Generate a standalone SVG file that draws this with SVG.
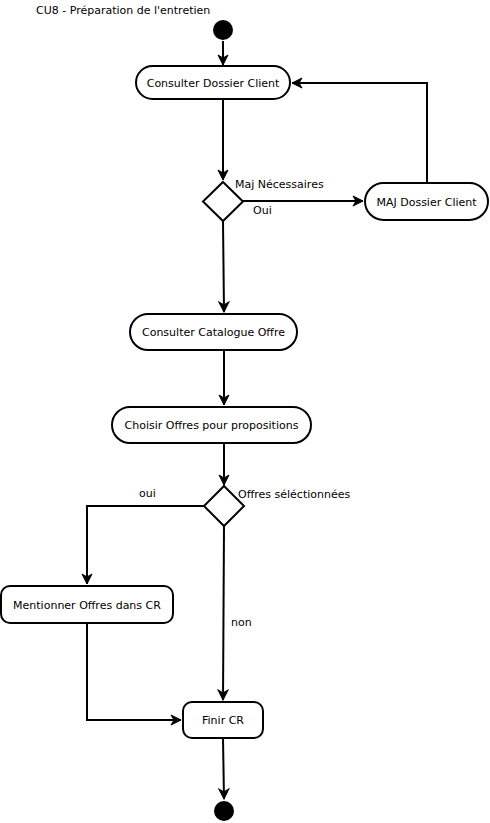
<svg xmlns="http://www.w3.org/2000/svg" width="490" height="823" viewBox="0 0 490 823">
<style>
text{font-family:"DejaVu Sans",Verdana,sans-serif;font-size:11px;fill:#000}
.n{fill:#fff;stroke:#000;stroke-width:2}
.c{fill:none;stroke:#000;stroke-width:2;marker-end:url(#a)}
.m{text-anchor:middle}
</style>
<defs>
<marker id="a" markerUnits="userSpaceOnUse" markerWidth="12" markerHeight="12" viewBox="0 0 12 12" refX="11" refY="6" orient="auto">
<path d="M1,1 L11,6 L1,11 L4,6 Z" fill="#000" stroke="#000" stroke-width="1"/>
</marker>
</defs>
<rect width="490" height="823" fill="#fff"/>
<text x="36" y="14">CU8 - Préparation de l'entretien</text>
<g id="connectors">
<path class="c" d="M223,41 L223,65"/>
<path class="c" d="M223,99 L223,180"/>
<path class="c" d="M243,201 L363,201"/>
<path class="c" d="M427,183 L427,83 L292,83"/>
<path class="c" d="M223,221 L224,312"/>
<path class="c" d="M224,350 L224,405"/>
<path class="c" d="M224,443 L224,485"/>
<path class="c" d="M204,506 L87,506 L87,584"/>
<path class="c" d="M224,526 L223,700"/>
<path class="c" d="M87,623 L87,720 L181,720"/>
<path class="c" d="M223,738 L224,799"/>
<text x="235" y="188">Maj Nécessaires</text>
<text x="253" y="214">Oui</text>
<text x="238" y="498">Offres séléctionnées</text>
<text x="139" y="497">oui</text>
<text x="231" y="626">non</text>
</g>
<g id="start"><circle cx="223" cy="30" r="10" fill="#000"/></g>
<g id="consulterDossier"><rect class="n" x="136" y="66" width="154" height="33" rx="16.5"/><text class="m" x="213" y="87">Consulter Dossier Client</text></g>
<g id="decision1"><path class="n" d="M223,182 L243,201.5 L223,221 L203,201.5 Z"/></g>
<g id="majDossier"><rect class="n" x="365" y="183" width="123" height="37" rx="18.5"/><text class="m" x="426.5" y="206">MAJ Dossier Client</text></g>
<g id="consulterCatalogue"><rect class="n" x="130" y="314" width="167" height="36" rx="18"/><text class="m" x="213.5" y="336">Consulter Catalogue Offre</text></g>
<g id="choisirOffres"><rect class="n" x="112" y="407" width="199" height="36" rx="18"/><text class="m" x="211.5" y="429">Choisir Offres pour propositions</text></g>
<g id="decision2"><path class="n" d="M224,486 L244,506 L224,526 L204,506 Z"/></g>
<g id="mentionner"><rect class="n" x="1" y="586" width="172" height="37" rx="9"/><text class="m" x="87" y="609">Mentionner Offres dans CR</text></g>
<g id="finirCR"><rect class="n" x="183" y="702" width="80" height="36" rx="9"/><text class="m" x="223" y="724">Finir CR</text></g>
<g id="end"><circle cx="224" cy="811" r="10" fill="#000"/></g>
</svg>
